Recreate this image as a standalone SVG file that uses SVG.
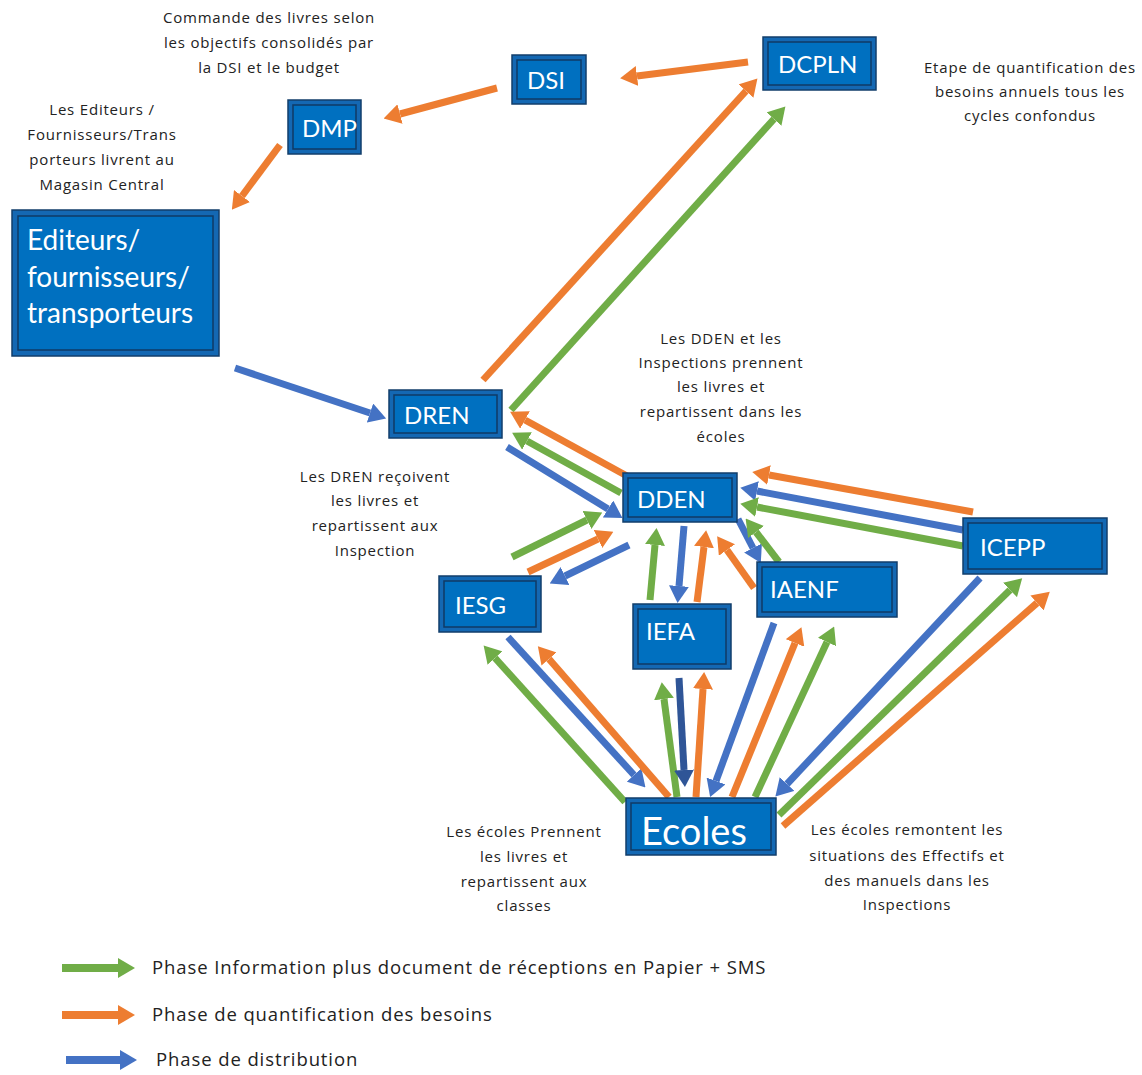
<svg xmlns="http://www.w3.org/2000/svg" width="1142" height="1075" viewBox="0 0 1142 1075">
<style>
.bo{fill:#1468b3;stroke:#123e6b;stroke-width:1.5}
.bi{fill:#0070C0;stroke:#0f3a66;stroke-width:1.5}
.bt{fill:#ffffff;font-family:Lato,"Liberation Sans",sans-serif}
.an{fill:#222;font-family:"Open Sans","Liberation Sans",sans-serif;font-size:15px;letter-spacing:0.8px;text-anchor:middle}
.lg{fill:#222;font-family:"Open Sans","Liberation Sans",sans-serif;font-size:18.5px;letter-spacing:0.9px}
.o{stroke:#ED7D31;stroke-width:7;fill:none;marker-end:url(#mo)}
.g{stroke:#70AD47;stroke-width:7;fill:none;marker-end:url(#mg)}
.b{stroke:#4472C4;stroke-width:7;fill:none;marker-end:url(#mb)}
.d{stroke:#2F5597;stroke-width:7;fill:none;marker-end:url(#md)}
</style>
<defs>
<marker id="mo" markerUnits="userSpaceOnUse" markerWidth="17" markerHeight="20" refX="0" refY="10" orient="auto" viewBox="0 0 17 20"><path d="M0,0 L17,10 L0,20 z" fill="#ED7D31"/></marker>
<marker id="mg" markerUnits="userSpaceOnUse" markerWidth="17" markerHeight="20" refX="0" refY="10" orient="auto" viewBox="0 0 17 20"><path d="M0,0 L17,10 L0,20 z" fill="#70AD47"/></marker>
<marker id="mb" markerUnits="userSpaceOnUse" markerWidth="17" markerHeight="20" refX="0" refY="10" orient="auto" viewBox="0 0 17 20"><path d="M0,0 L17,10 L0,20 z" fill="#4472C4"/></marker>
<marker id="md" markerUnits="userSpaceOnUse" markerWidth="17" markerHeight="20" refX="0" refY="10" orient="auto" viewBox="0 0 17 20"><path d="M0,0 L17,10 L0,20 z" fill="#2F5597"/></marker>
</defs>
<rect width="1142" height="1075" fill="#ffffff"/>

<g id="connectors">
<line class="o" x1="748" y1="62" x2="637" y2="76"/>
<line class="o" x1="497" y1="88" x2="400" y2="114"/>
<line class="o" x1="280" y1="145" x2="242" y2="196"/>
<line class="b" x1="235" y1="368" x2="370" y2="413"/>
<line class="o" x1="483" y1="380" x2="746" y2="91"/>
<line class="g" x1="511" y1="410" x2="774" y2="119"/>
<line class="o" x1="627" y1="476" x2="525" y2="420"/>
<line class="g" x1="621" y1="493" x2="527" y2="441"/>
<line class="b" x1="507" y1="447" x2="608" y2="509"/>
<line class="g" x1="512" y1="557" x2="587" y2="520"/>
<line class="o" x1="528" y1="572" x2="598" y2="539"/>
<line class="b" x1="629" y1="545" x2="565" y2="576"/>
<line class="g" x1="650" y1="600" x2="655" y2="545"/>
<line class="b" x1="684" y1="526" x2="679" y2="586"/>
<line class="o" x1="697" y1="602" x2="704" y2="547"/>
<line class="o" x1="754" y1="588" x2="727" y2="550"/>
<line class="b" x1="738" y1="519" x2="753" y2="548"/>
<line class="g" x1="779" y1="562" x2="756" y2="532"/>
<line class="o" x1="973" y1="512" x2="769" y2="475"/>
<line class="b" x1="963" y1="530" x2="757" y2="491"/>
<line class="g" x1="963" y1="546" x2="757" y2="507"/>
<line class="g" x1="625" y1="802" x2="495" y2="658"/>
<line class="b" x1="508" y1="637" x2="634" y2="775"/>
<line class="o" x1="669" y1="797" x2="549" y2="659"/>
<line class="g" x1="677" y1="797" x2="664" y2="699"/>
<line class="d" x1="679" y1="678" x2="684" y2="770"/>
<line class="o" x1="696" y1="797" x2="703" y2="689"/>
<line class="b" x1="774" y1="623" x2="716" y2="781"/>
<line class="o" x1="732" y1="797" x2="795" y2="643"/>
<line class="g" x1="755" y1="797" x2="827" y2="642"/>
<line class="b" x1="980" y1="578" x2="787" y2="784"/>
<line class="g" x1="779" y1="815" x2="1010" y2="590"/>
<line class="o" x1="783" y1="826" x2="1037" y2="603"/>
</g>

<g id="node-dsi"><rect class="bo" x="512" y="55" width="74" height="49"/><rect class="bi" x="517" y="60" width="64" height="39"/><text class="bt" x="527" y="89" font-size="24">DSI</text></g>
<g id="node-dcpln"><rect class="bo" x="763" y="37" width="113" height="53"/><rect class="bi" x="768" y="42" width="103" height="43"/><text class="bt" x="778" y="73" font-size="24">DCPLN</text></g>
<g id="node-dmp"><rect class="bo" x="288" y="100" width="73" height="54"/><rect class="bi" x="293" y="105" width="63" height="44"/><text class="bt" x="302" y="137" font-size="24">DMP</text></g>
<g id="node-editeurs"><rect class="bo" x="12" y="210" width="207" height="146"/><rect class="bi" x="18" y="216" width="195" height="134"/><text class="bt" font-size="28"><tspan x="27" y="250">Editeurs/</tspan><tspan x="27" y="287">fournisseurs/</tspan><tspan x="27" y="323">transporteurs</tspan></text></g>
<g id="node-dren"><rect class="bo" x="389" y="390" width="113" height="48"/><rect class="bi" x="394" y="395" width="103" height="38"/><text class="bt" x="404" y="424" font-size="24">DREN</text></g>
<g id="node-dden"><rect class="bo" x="623" y="473" width="114" height="49"/><rect class="bi" x="628" y="478" width="104" height="39"/><text class="bt" x="637" y="508" font-size="24">DDEN</text></g>
<g id="node-iesg"><rect class="bo" x="439" y="576" width="102" height="56"/><rect class="bi" x="444" y="581" width="92" height="46"/><text class="bt" x="455" y="614" font-size="24">IESG</text></g>
<g id="node-iefa"><rect class="bo" x="633" y="604" width="98" height="65"/><rect class="bi" x="638" y="609" width="88" height="55"/><text class="bt" x="646" y="640" font-size="24">IEFA</text></g>
<g id="node-iaenf"><rect class="bo" x="757" y="562" width="140" height="55"/><rect class="bi" x="762" y="567" width="130" height="45"/><text class="bt" x="770" y="598" font-size="24">IAENF</text></g>
<g id="node-icepp"><rect class="bo" x="963" y="518" width="144" height="56"/><rect class="bi" x="968" y="523" width="134" height="46"/><text class="bt" x="980" y="556" font-size="24">ICEPP</text></g>
<g id="node-ecoles"><rect class="bo" x="626" y="798" width="150" height="57"/><rect class="bi" x="631" y="803" width="140" height="47"/><text class="bt" x="641" y="845" font-size="38">Ecoles</text></g>

<g id="annotations">
<text class="an"><tspan x="269" y="23">Commande des livres selon</tspan><tspan x="269" y="48">les objectifs consolidés par</tspan><tspan x="269" y="73">la DSI et le budget</tspan></text>
<text class="an"><tspan x="102" y="115">Les Editeurs /</tspan><tspan x="102" y="140">Fournisseurs/Trans</tspan><tspan x="102" y="165">porteurs livrent au</tspan><tspan x="102" y="190">Magasin Central</tspan></text>
<text class="an"><tspan x="1030" y="73">Etape de quantification des</tspan><tspan x="1030" y="97">besoins annuels tous les</tspan><tspan x="1030" y="121">cycles confondus</tspan></text>
<text class="an"><tspan x="721" y="344">Les DDEN et les</tspan><tspan x="721" y="368">Inspections prennent</tspan><tspan x="721" y="392">les livres et</tspan><tspan x="721" y="417">repartissent dans les</tspan><tspan x="721" y="442">écoles</tspan></text>
<text class="an"><tspan x="375" y="482">Les DREN reçoivent</tspan><tspan x="375" y="506">les livres et</tspan><tspan x="375" y="531">repartissent aux</tspan><tspan x="375" y="556">Inspection</tspan></text>
<text class="an"><tspan x="524" y="837">Les écoles Prennent</tspan><tspan x="524" y="862">les livres et</tspan><tspan x="524" y="887">repartissent aux</tspan><tspan x="524" y="911">classes</tspan></text>
<text class="an"><tspan x="907" y="835">Les écoles remontent les</tspan><tspan x="907" y="861">situations des Effectifs et</tspan><tspan x="907" y="886">des manuels dans les</tspan><tspan x="907" y="910">Inspections</tspan></text>
</g>

<g id="legend">
<line class="g" x1="62" y1="968" x2="118" y2="968" style="stroke-width:8"/>
<line class="o" x1="62" y1="1015" x2="118" y2="1015" style="stroke-width:8"/>
<line class="b" x1="66" y1="1060" x2="120" y2="1060" style="stroke-width:8"/>
<text class="lg" x="152" y="974">Phase Information plus document de réceptions en Papier + SMS</text>
<text class="lg" x="152" y="1021">Phase de quantification des besoins</text>
<text class="lg" x="156" y="1066">Phase de distribution</text>
</g>
</svg>
